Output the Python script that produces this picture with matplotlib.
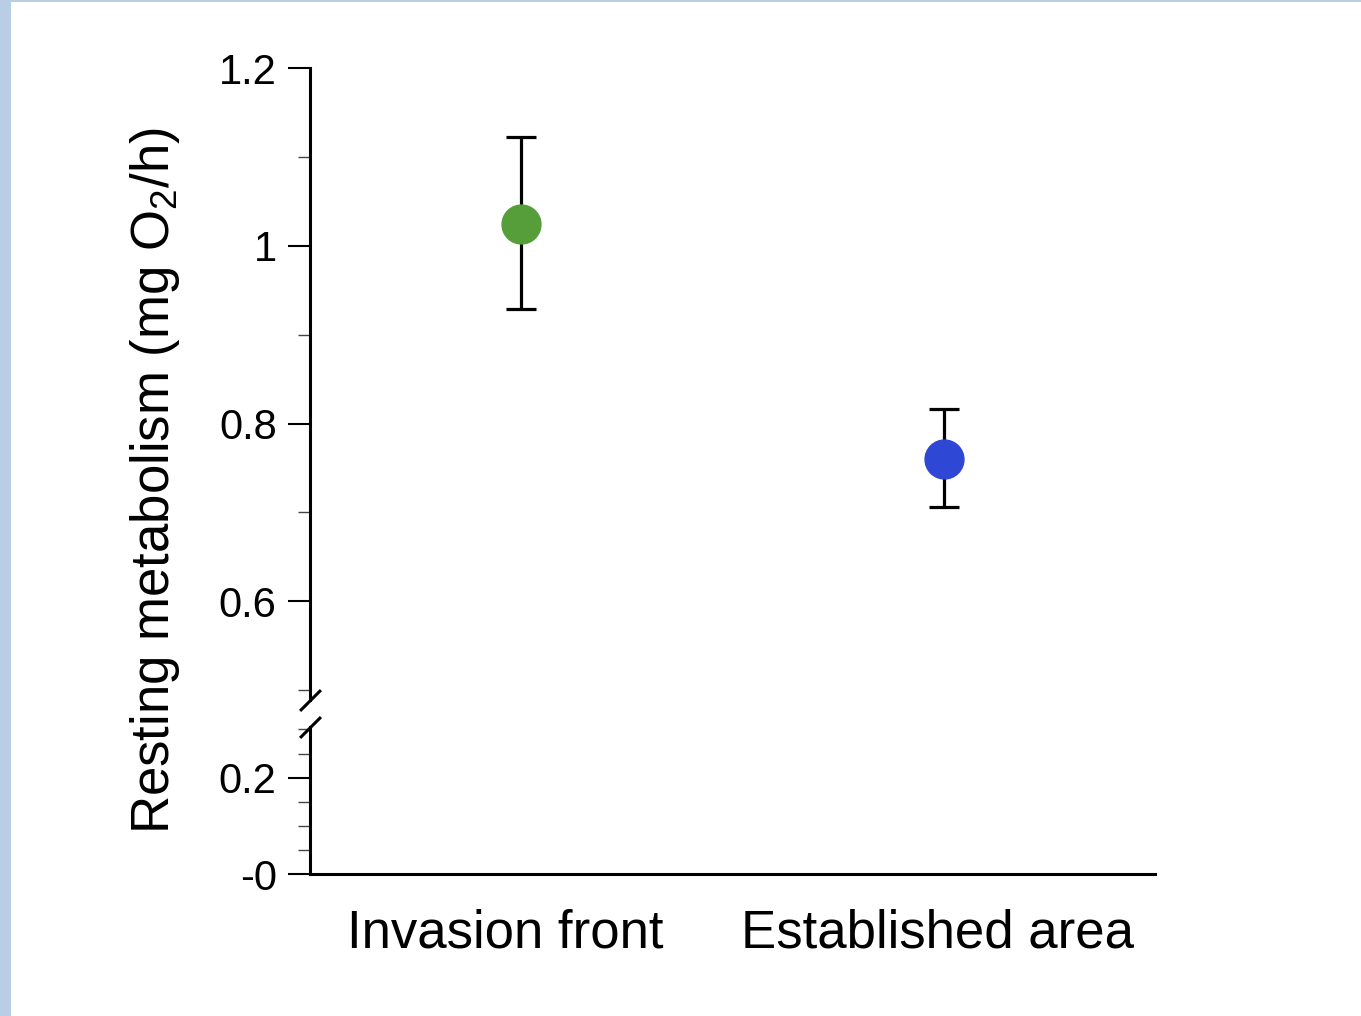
import numpy as np
import matplotlib
matplotlib.use("Agg")
from matplotlib import pyplot as plt
from matplotlib.patches import Rectangle
from matplotlib.transforms import ScaledTranslation

plt.rcParams['font.family'] = ['Liberation Sans', 'DejaVu Sans']
plt.rcParams['mathtext.fontset'] = 'custom'
plt.rcParams['mathtext.rm'] = 'Liberation Sans'

# data
groups = ["Invasion front", "Established area"]
means = [1.024, 0.760]
err_low = [0.929, 0.706]
err_high = [1.122, 0.816]
colors = ["#559E3A", "#2E47D4"]

upper_ticks = [0.6, 0.8, 1.0, 1.2]
upper_labels = ["0.6", "0.8", "1", "1.2"]
upper_minor = [0.5, 0.7, 0.9, 1.1]
lower_ticks = [0.0, 0.2]
lower_labels = ["-0", "0.2"]
lower_minor = [0.05, 0.1, 0.15, 0.25, 0.3]

W, H = 1361, 1016
fig = plt.figure(figsize=(W / 100, H / 100), dpi=100)
fig.patch.set_facecolor("#B9CDE5")
fig.patches.append(Rectangle((11 / W, 0), 1 - 11 / W, 1 - 2 / H, transform=fig.transFigure,
                             facecolor="white", edgecolor="none", zorder=-10))

x0, x1 = 310 / W, 1155 / W
ax_up = fig.add_axes([x0, 1 - 700 / H, x1 - x0, (700 - 68) / H])
ax_lo = fig.add_axes([x0, 1 - 874 / H, x1 - x0, (874 - 727) / H])
for a in (ax_up, ax_lo):
    a.patch.set_alpha(0)
    a.set_xlim(-0.5, 1.5)
    for s in ["top", "right"]:
        a.spines[s].set_visible(False)
    a.spines["left"].set_linewidth(2.2)
    a.tick_params(axis="y", which="major", length=16, width=1.5, labelsize=30, pad=8)
    a.tick_params(axis="y", which="minor", length=9, width=1.0, color="#444444")

ax_up.set_ylim(0.489, 1.2)
ax_up.spines["bottom"].set_visible(False)
ax_up.set_xticks([])
ax_up.set_yticks(upper_ticks)
ax_up.set_yticklabels(upper_labels)
ax_up.set_yticks(upper_minor, minor=True)

ax_lo.set_ylim(0, 0.305)
ax_lo.spines["bottom"].set_linewidth(2.2)
ax_lo.set_yticks(lower_ticks)
ax_lo.set_yticklabels(lower_labels)
ax_lo.set_yticks(lower_minor, minor=True)
ax_lo.set_xticks(range(len(groups)))
ax_lo.set_xticklabels(groups)
ax_lo.tick_params(axis="x", length=0, labelsize=38, pad=25)

# the category labels sit a little left of the points in the original
shifts = [-16, -6]
for lab, dx in zip(ax_lo.get_xticklabels(), shifts):
    lab.set_transform(lab.get_transform() + ScaledTranslation(dx / 100, 0, fig.dpi_scale_trans))

for i in range(len(groups)):
    yerr = [[means[i] - err_low[i]], [err_high[i] - means[i]]]
    ax_up.errorbar([i], [means[i]], yerr=yerr, fmt="none", ecolor="black",
                   elinewidth=2.3, capsize=11, capthick=2.3, zorder=2)
    ax_up.plot([i], [means[i]], "o", color=colors[i], markersize=28, zorder=3)

# break marks on the y axis
brk = dict(marker=[(-1, -1), (1, 1)], markersize=15, linestyle="none",
           color="black", mec="black", mew=2.2, clip_on=False)
ax_up.plot([0], [0], transform=ax_up.transAxes, **brk)
ax_lo.plot([0], [1], transform=ax_lo.transAxes, **brk)

fig.text(155 / W, 1 - 480 / H, r"Resting metabolism (mg O$_\mathregular{2}$/h)",
         rotation=90, ha="center", va="center", fontsize=38)

fig.savefig("out.png", dpi=100)
